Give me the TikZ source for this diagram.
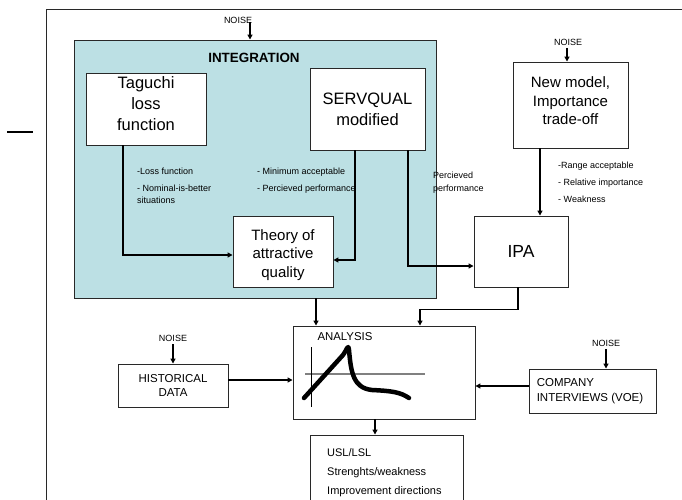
\documentclass[tikz,border=0pt]{standalone}
\usepackage{fontspec}
\setmainfont{Liberation Sans}
\usetikzlibrary{arrows.meta,calc}
\definecolor{integfill}{RGB}{188,224,228}
\definecolor{boxline}{RGB}{40,40,40}
\definecolor{axisgray}{RGB}{128,128,128}

\begin{document}
\begin{tikzpicture}[x=1pt,y=-1pt,
  box/.style={draw=boxline,line width=0.9pt,fill=white,inner sep=0pt,align=center},
  bigtxt/.style={font=\fontsize{16.5}{21}\selectfont,align=center,inner sep=0pt},
  midtxt/.style={font=\fontsize{15}{18.5}\selectfont,align=center,inner sep=0pt},
  captxt/.style={font=\fontsize{11.5}{14.5}\selectfont,inner sep=0pt},
  note/.style={font=\fontsize{9}{12}\selectfont,anchor=north west,inner sep=0pt,align=left},
  noise/.style={font=\fontsize{9}{10}\selectfont,inner sep=0pt},
  conn/.style={line width=1.3pt},
  arr/.style={line width=1.3pt,-{Triangle[length=5pt,width=5pt]}},
]
\useasboundingbox (0,0) rectangle (682,500);
\clip (0,0) rectangle (682,500);

% page frame and margin mark
\draw[boxline,line width=1pt] (46,520) -- (46,10) -- (700,10);
\draw[line width=1.5pt] (7,132) -- (33,132);

% integration block
\node[box,fill=integfill,minimum width=362pt,minimum height=258pt] (integ) at (255,169) {};
\node[font=\bfseries\fontsize{13.4}{15}\selectfont,inner sep=0pt] (integt) at (254,58) {INTEGRATION};

\node[box,minimum width=120pt,minimum height=72pt] (tag) at (146,109) {};
\node[bigtxt] (tagt) at ([yshift=5pt]tag.center) {Taguchi\\loss\\function};

\node[box,minimum width=115pt,minimum height=82pt] (sq) at (367.5,109) {};
\node[bigtxt] (sqt) at (sq.center) {SERVQUAL\\modified};

\node[box,minimum width=100pt,minimum height=71pt] (th) at (283,251.5) {};
\node[midtxt] (tht) at ([yshift=-3.5pt]th.center) {Theory of\\attractive\\quality};

% labels inside the integration block
\node[note] (l1) at (137,168) {-Loss function\\[5pt]- Nominal-is-better\\situations};
\node[note] (l2) at (257,168) {- Minimum acceptable\\[5pt]- Percieved performance};
\node[note,font=\fontsize{9}{13}\selectfont] (l3) at (433,172) {Percieved\\performance};

% right-hand model
\node[box,minimum width=115pt,minimum height=86pt] (nm) at (570.5,105) {};
\node[midtxt] (nmt) at ([yshift=4pt]nm.center) {New model,\\Importance\\trade-off};
\node[note] (l4) at (558,162) {-Range acceptable\\[5pt]- Relative importance\\[5pt]- Weakness};

\node[box,minimum width=94pt,minimum height=71pt] (ipa) at (521,251.5) {};
\node[font=\fontsize{17.5}{20}\selectfont,inner sep=0pt] (ipat) at (ipa.center) {IPA};

% analysis block
\node[box,minimum width=182pt,minimum height=93pt] (an) at (384,372.5) {};
\node[font=\fontsize{11.4}{13}\selectfont,inner sep=0pt] (ant) at (345,337) {ANALYSIS};
\draw[axisgray,line width=1.3pt] (305,374) -- (425,374);
\draw[line width=0.8pt] (311,347) -- (311,407);
\draw[line width=4.5pt,line cap=round,line join=round]
  (304,398) -- (343,355) .. controls (347,350) and (348,343) .. (349,350)
  .. controls (351,372) and (353,388) .. (372,390)
  .. controls (392,391) and (400,392) .. (409,398);

\node[box,minimum width=110pt,minimum height=43pt] (hist) at (173,385.5) {};
\node[captxt,align=center] (histt) at (hist.center) {HISTORICAL\\DATA};

\node[box,minimum width=127pt,minimum height=44pt] (comp) at (592.5,391) {};
\node[captxt,align=left,anchor=west] (compt) at ([xshift=8pt]comp.west) {COMPANY\\INTERVIEWS (VOE)};

\node[box,minimum width=153pt,minimum height=100pt] (out) at (386.5,485) {};
\node[note,font=\fontsize{11}{19}\selectfont] (outt) at (327,448.5) {USL/LSL\\Strenghts/weakness\\Improvement directions};

% noise inputs
\node[noise] (n1) at (238,20) {NOISE};
\coordinate (n1a) at (250,22);
\draw[arr] (n1a) -- (n1a |- integ.north);

\node[noise] (n2) at (568,42) {NOISE};
\coordinate (n2a) at (567,48);
\draw[arr] (n2a) -- (n2a |- nm.north);

\node[noise] (n3) at (173,338) {NOISE};
\coordinate (n3a) at (173,344);
\draw[arr] (n3a) -- (n3a |- hist.north);

\node[noise] (n4) at (606,343) {NOISE};
\coordinate (n4a) at (606,349);
\draw[arr] (n4a) -- (n4a |- comp.north);

% connectors
\draw[arr] ([xshift=-23pt]tag.south) |- ([yshift=-3.5pt]th.west);
\draw[arr] ([xshift=-12.5pt]sq.south) |- ([yshift=-8.5pt]th.east);
\draw[arr] ([xshift=40.5pt]sq.south) |- ([yshift=-14.5pt]ipa.west);
\coordinate (m1) at ([xshift=-30.5pt]nm.south);
\draw[arr] (m1) -- (m1 |- ipa.north);
\coordinate (g1) at ([xshift=61pt]integ.south);
\draw[arr] (g1) -- (g1 |- an.north);
\draw[arr] ([xshift=-3pt]ipa.south) -- ++(0,22) -| ([xshift=36pt]an.north);
\coordinate (h1) at ([yshift=5.5pt]hist.east);
\draw[arr] (h1) -- (h1 -| an.west);
\coordinate (c1) at ([yshift=5pt]comp.west);
\draw[arr] (c1) -- (c1 -| an.east);
\coordinate (a1) at ([xshift=-9pt]an.south);
\draw[arr] (a1) -- (a1 |- out.north);
\end{tikzpicture}
\end{document}
